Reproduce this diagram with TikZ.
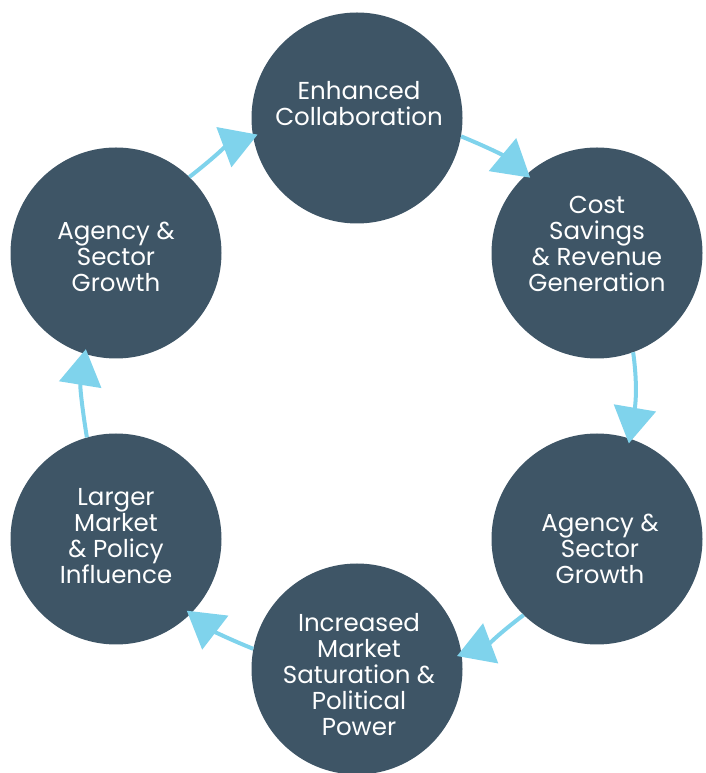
\documentclass[tikz,border=0pt]{standalone}
\usepackage{fontspec}
\setmainfont{Poppins}
\usetikzlibrary{arrows.meta}
\definecolor{slate}{HTML}{3E5566}
\definecolor{sky}{HTML}{7FD3EC}

\begin{document}
\begin{tikzpicture}[x=1pt,y=1pt,
    bubble/.style={circle, fill=slate, minimum size=211pt, inner sep=0pt},
    txt/.style={text=white, align=center, inner sep=0pt, font=\fontsize{24.5}{26}\selectfont},
    flow/.style={color=sky, line width=4pt, shorten >=-5pt, -{Triangle[length=36pt,width=42pt]}}]
\useasboundingbox (0,0) rectangle (705,773);
% circles, clockwise from the top
\node[bubble] (collab)     at (357,655) {};
\node[bubble] (savings)    at (597,520) {};
\node[bubble] (growthR)    at (597,234) {};
\node[bubble] (saturation) at (357,104) {};
\node[bubble] (influence)  at (116,234) {};
\node[bubble] (growthL)    at (116,520) {};
% their texts
\node[txt] (collab-t)     at (359,669)   {Enhanced\\Collaboration};
\node[txt] (savings-t)    at (597,529)   {Cost\\Savings\\\& Revenue\\Generation};
\node[txt] (growthR-t)    at (600,224.5) {Agency \&\\Sector\\Growth};
\node[txt] (saturation-t) at (359,98)    {Increased\\Market\\Saturation \&\\Political\\Power};
\node[txt] (influence-t)  at (116,237)   {Larger\\Market\\\& Policy\\Influence};
\node[txt] (growthL-t)    at (116,516)   {Agency \&\\Sector\\Growth};
% arrows along the ring
\foreach \a/\sa/\b/\eb/\o/\i in {collab/-10.8/savings/132/-22.4/140.2,
        savings/-70.6/growthR/72.6/-82.1/80.3,
        growthR/-134.6/saturation/8.7/-142.9/20.7,
        saturation/169.6/influence/-45.4/158/-37.6,
        influence/106.9/growthL/-107.7/99.1/-99.1,
        growthL/46.5/collab/-170.1/37.9/200.5}
    \draw[flow] (\a.\sa) to[out=\o,in=\i] (\b.\eb);
\end{tikzpicture}
\end{document}
